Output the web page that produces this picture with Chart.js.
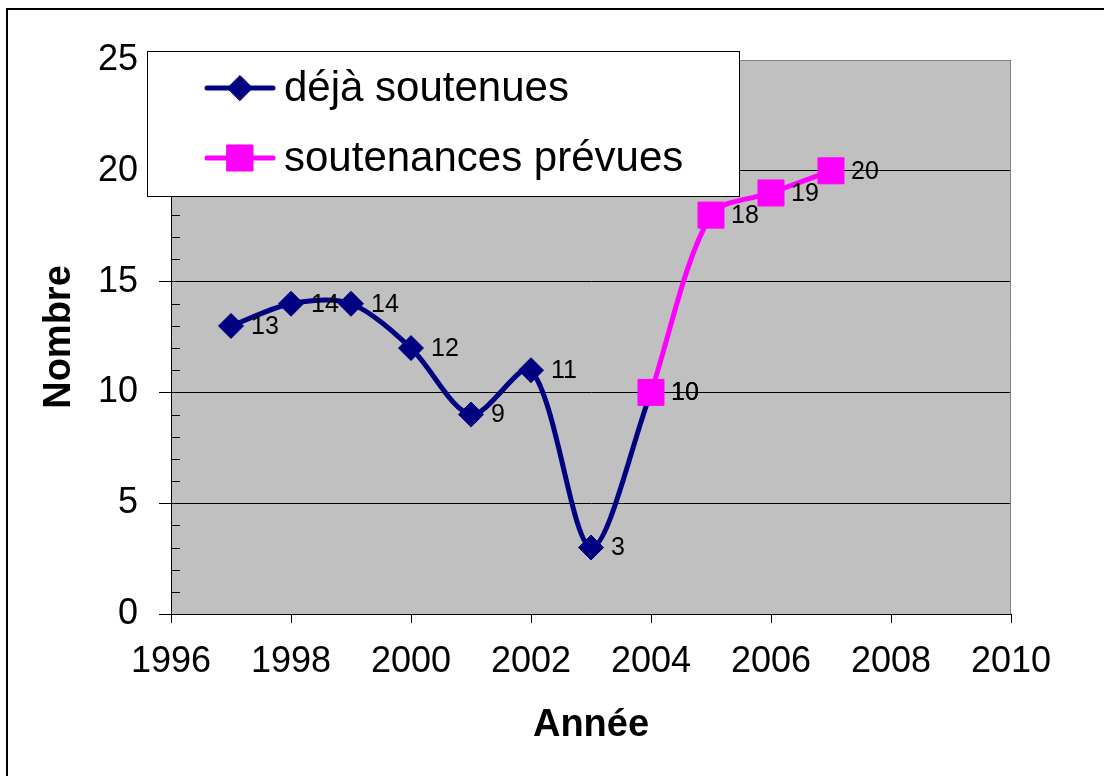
<!DOCTYPE html>
<html>
<head>
<meta charset="utf-8">
<script src="https://cdn.jsdelivr.net/npm/chart.js@4.4.0/dist/chart.umd.min.js"></script>
<style>
  html, body { margin: 0; padding: 0; background: #fff; }
  #wrap { position: relative; width: 1104px; height: 776px; overflow: hidden; }
  #frame { position: absolute; left: 6px; top: 8px; width: 1200px; height: 900px; border-left: 2px solid #000; border-top: 2px solid #000; }
  canvas { position: absolute; left: 0; top: 0; }
</style>
</head>
<body>
<div id="wrap">
  <div id="frame"></div>
  <canvas id="chart" width="1104" height="776"></canvas>
</div>
<script>
// data
const yearsDone = [1997, 1998, 1999, 2000, 2001, 2002, 2003, 2004];
const valuesDone = [13, 14, 14, 12, 9, 11, 3, 10];
const yearsPlanned = [2004, 2005, 2006, 2007];
const valuesPlanned = [10, 18, 19, 20];

const labelDone = 'déjà soutenues';
const labelPlanned = 'soutenances prévues';
const xTitle = 'Année';
const yTitle = 'Nombre';

const xRange = [1996, 2010];
const xStep = 2;
const yRange = [0, 25];
const yStep = 5;
const yMinorStep = 1;

const FONT = "'Liberation Sans', Arial, sans-serif";
const PLOT_BG = '#C0C0C0';

// grey plot area
const plotBackground = {
    id: 'plotBackground',
    beforeDraw(chart) {
        const { ctx, chartArea: a } = chart;
        ctx.save();
        ctx.fillStyle = PLOT_BG;
        ctx.fillRect(a.left, a.top, a.right - a.left, a.bottom - a.top);
        ctx.restore();
    },
    beforeDatasetsDraw(chart) {
        const { ctx, chartArea: a } = chart;
        const y = chart.scales.y;
        ctx.save();
        // plot frame, top and right
        ctx.strokeStyle = '#808080';
        ctx.lineWidth = 1;
        ctx.beginPath();
        ctx.moveTo(a.left, a.top + 0.5);
        ctx.lineTo(a.right - 0.5, a.top + 0.5);
        ctx.lineTo(a.right - 0.5, a.bottom);
        ctx.stroke();
        // minor ticks on the y axis, inside the plot
        ctx.strokeStyle = '#000';
        ctx.beginPath();
        for (let v = yRange[0]; v <= yRange[1]; v += yMinorStep) {
            if (v % yStep === 0) continue;
            const py = Math.round(y.getPixelForValue(v)) + 0.5;
            ctx.moveTo(a.left, py);
            ctx.lineTo(a.left + 9, py);
        }
        ctx.stroke();
        ctx.restore();
    }
};

// value labels next to each point
const pointLabels = {
    id: 'pointLabels',
    afterDatasetsDraw(chart) {
        const { ctx } = chart;
        ctx.save();
        ctx.fillStyle = '#000';
        ctx.font = '25px ' + FONT;
        ctx.textAlign = 'left';
        ctx.textBaseline = 'middle';
        chart.data.datasets.forEach((ds, i) => {
            const meta = chart.getDatasetMeta(i);
            meta.data.forEach((pt, j) => {
                ctx.fillText(String(ds.data[j].y), pt.x + 20, pt.y + 1);
            });
        });
        ctx.restore();
    }
};

// legend box overlapping the top left of the plot
const legendBox = {
    id: 'legendBox',
    afterDraw(chart) {
        const { ctx } = chart;
        const box = { left: 147.5, top: 51.5, width: 592, height: 145 };
        ctx.save();
        ctx.fillStyle = '#fff';
        ctx.strokeStyle = '#000';
        ctx.lineWidth = 1;
        ctx.fillRect(box.left, box.top, box.width, box.height);
        ctx.strokeRect(box.left, box.top, box.width, box.height);

        const rows = [88, 158];
        const order = [1, 0]; // dataset index for each row
        order.forEach((dsIndex, r) => {
            const ds = chart.data.datasets[dsIndex];
            const y = rows[r];
            ctx.strokeStyle = ds.borderColor;
            ctx.fillStyle = ds.backgroundColor;
            ctx.lineWidth = ds.borderWidth;
            ctx.lineCap = 'round';
            ctx.beginPath();
            ctx.moveTo(207, y);
            ctx.lineTo(273, y);
            ctx.stroke();
            ctx.lineWidth = 1;
            Chart.helpers.drawPoint(ctx, {
                pointStyle: ds.pointStyle,
                radius: ds.pointRadius,
                rotation: 0,
                borderWidth: 1
            }, 240, y);
            ctx.fillStyle = '#000';
            ctx.font = '42px ' + FONT;
            ctx.textAlign = 'left';
            ctx.textBaseline = 'middle';
            ctx.fillText(ds.label, 284, y + 1);
        });
        ctx.restore();
    }
};

new Chart(document.getElementById('chart'), {
    type: 'line',
    data: {
        datasets: [
            {
                label: labelPlanned,
                data: yearsPlanned.map((x, i) => ({ x, y: valuesPlanned[i] })),
                borderColor: '#FF00FF',
                backgroundColor: '#FF00FF',
                borderWidth: 5,
                pointStyle: 'rect',
                pointRadius: 18.4,
                pointBorderWidth: 1,
                tension: 0.3,
                order: 1
            },
            {
                label: labelDone,
                data: yearsDone.map((x, i) => ({ x, y: valuesDone[i] })),
                borderColor: '#000080',
                backgroundColor: '#000080',
                borderWidth: 5,
                pointStyle: 'rectRot',
                pointRadius: 12.5,
                pointBorderWidth: 1,
                tension: 0.3,
                order: 2
            }
        ]
    },
    options: {
        responsive: false,
        animation: false,
        events: [],
        layout: { padding: { left: 0, top: 60, right: 93, bottom: 0 } },
        plugins: {
            legend: { display: false },
            tooltip: { enabled: false }
        },
        scales: {
            x: {
                type: 'linear',
                min: xRange[0],
                max: xRange[1],
                ticks: {
                    stepSize: xStep,
                    autoSkip: false,
                    maxRotation: 0,
                    color: '#000',
                    padding: 17,
                    font: { family: FONT, size: 36 },
                    callback: v => String(v)
                },
                grid: {
                    drawOnChartArea: false,
                    drawTicks: true,
                    tickLength: 9,
                    tickColor: '#000'
                },
                border: { color: '#000', width: 1 },
                title: {
                    display: true,
                    text: xTitle,
                    color: '#000',
                    font: { family: FONT, size: 38, weight: 'bold' },
                    padding: { top: 0, bottom: 28 }
                },
                afterFit: s => { s.height = 162; }
            },
            y: {
                min: yRange[0],
                max: yRange[1],
                ticks: {
                    stepSize: yStep,
                    color: '#000',
                    padding: 21,
                    font: { family: FONT, size: 36 }
                },
                grid: {
                    color: c => c.tick && c.tick.value === yRange[1] ? '#808080' : '#000',
                    tickColor: '#000',
                    tickLength: 12,
                    lineWidth: 1
                },
                border: { color: '#000', width: 1 },
                title: {
                    display: true,
                    text: yTitle,
                    color: '#000',
                    font: { family: FONT, size: 38, weight: 'bold' },
                    padding: { top: 37, bottom: 0 }
                },
                afterFit: s => { s.width = 171; }
            }
        }
    },
    plugins: [plotBackground, pointLabels, legendBox]
});
</script>
</body>
</html>
